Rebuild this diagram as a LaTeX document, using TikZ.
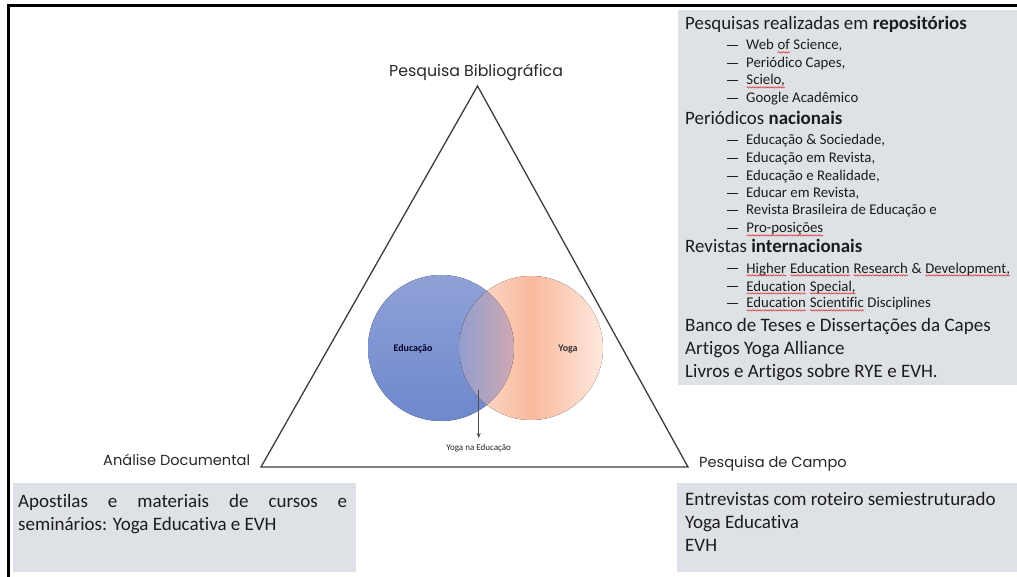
\documentclass[tikz,border=0pt]{standalone}
\usepackage{fontspec}
\setmainfont{Carlito}[Ligatures=NoCommon]
\newfontfamily\gothicfont{Poppins}
\usetikzlibrary{decorations.pathmorphing,arrows.meta}

\definecolor{boxgray}{RGB}{222,225,229}
\definecolor{textdark}{RGB}{28,28,28}
\definecolor{labeldark}{RGB}{40,40,40}
\definecolor{edublue1}{RGB}{143,161,214}
\definecolor{edublue2}{RGB}{110,136,205}
\definecolor{yogaor1}{RGB}{253,226,214}
\definecolor{yogaor2}{RGB}{249,186,157}
\definecolor{yogaor3}{RGB}{254,232,222}
\definecolor{lensleft}{RGB}{146,158,206}
\definecolor{lensright}{RGB}{208,168,178}
\definecolor{spellred}{RGB}{220,40,40}

% red wavy underline under a word
\newcommand\spellmark[1]{\tikz[baseline=(w.base)]{\node[inner sep=0pt,outer sep=0pt,anchor=base](w){#1};\draw[spellred,line width=0.5pt,decorate,decoration={snake,amplitude=0.7pt,segment length=2.6pt}] ([yshift=-2.4pt]w.base west)--([yshift=-2.4pt]w.base east);}}
% list dash
\newcommand\listdash{\raisebox{4.2pt}{\rule{10.5pt}{1.1pt}}}

\tikzset{
  cornerlabel/.style={font=\gothicfont\fontsize{14.6}{16}\selectfont, text=labeldark, inner sep=0pt, anchor=base west},
  heading/.style={font=\fontsize{18.9}{20}\selectfont, text=textdark, inner sep=0pt, anchor=base west},
  entry/.style={font=\fontsize{14.8}{16}\selectfont, text=textdark, inner sep=0pt, anchor=base west},
  bigline/.style={font=\fontsize{19}{21}\selectfont, text=textdark, inner sep=0pt, anchor=base west},
  greybox/.style={fill=boxgray, draw=none},
}

\begin{document}
\begin{tikzpicture}[x=1pt,y=-1pt]
\useasboundingbox (0,0) rectangle (1017,577);
\fill[white] (0,0) rectangle (1017,577);

% outer frame (top and left edges)
\draw[line width=2.4pt, black] (8.5,577) -- (8.5,5.5) -- (1017,5.5);

% grey source boxes
\fill[greybox] (678,10) rectangle (1017,385);
\fill[greybox] (13,483) rectangle (356,572);
\fill[greybox] (677,483) rectangle (1017,572);

% triangle of methods
\coordinate (apex) at (477.5,86);
\coordinate (left) at (261,467);
\coordinate (right) at (688,467);
\draw[line width=1.3pt, labeldark!90] (apex) -- (left) -- (right) -- cycle;

% Venn diagram
\fill[top color=edublue1, bottom color=edublue2] (441,348) circle (73);
\fill[left color=yogaor1, right color=yogaor3, middle color=yogaor2] (531,348) circle (72);
\begin{scope}
  \clip (441,348) circle (73);
  \clip (531,348) circle (72);
  \fill[left color=lensleft, right color=lensright] (459,270) rectangle (514,426);
\end{scope}
\node[font=\bfseries\fontsize{10}{12}\selectfont, text=black!75!blue!60!black, inner sep=0pt] (edu) at (413,349) {Educação};
\node[font=\bfseries\fontsize{10}{12}\selectfont, text=black!80, inner sep=0pt] (yoga) at (568,349) {Yoga};
\coordinate (arrtop) at (478.7,390);
\node[font=\fontsize{9}{11}\selectfont, text=black!85, inner sep=0pt, anchor=north] (yne) at (478.7,444) {Yoga na Educação};
\draw[line width=0.7pt, black!70, shorten >=6pt, -{Stealth[length=5pt,width=4pt]}] (arrtop) -- (yne.north);

% corner labels
\node[cornerlabel, font=\gothicfont\fontsize{15.8}{17}\selectfont] (pb) at (389,77) {Pesquisa Bibliográfica};
\node[cornerlabel] (ad) at (103,465) {Análise Documental};
\node[cornerlabel] (pc) at (699,467) {Pesquisa de Campo};

% repositories box
\node[heading] (h1) at (685,30) {Pesquisas realizadas em \textbf{repositórios}};
\foreach \y/\t [count=\i] in {50/{Web \spellmark{of} Science,}, 68/{Periódico Capes,}, 85/{\spellmark{Scielo,}}, 103/{Google Acadêmico}} {
  \node[entry] (da\i) at (727,\y) {\listdash};
  \node[entry] (ea\i) at (746,\y) {\t};
}
\node[heading] (h2) at (685,125) {Periódicos \textbf{nacionais}};
\foreach \y/\t [count=\i] in {145/{Educação \& Sociedade,}, 163/{Educação em Revista,}, 181/{Educação e Realidade,}, 198/{Educar em Revista,}, 215/{Revista Brasileira de Educação e}, 233/{\spellmark{Pro-posições}}} {
  \node[entry] (db\i) at (727,\y) {\listdash};
  \node[entry] (eb\i) at (746,\y) {\t};
}
\node[heading] (h3) at (685,253) {Revistas \textbf{internacionais}};
\foreach \y/\t [count=\i] in {273/{\spellmark{Higher} \spellmark{Education} \spellmark{Research} \& \spellmark{Development,}}, 291/{\spellmark{Education} \spellmark{Special,}}, 308/{\spellmark{Education} \spellmark{Scientific} Disciplines}} {
  \node[entry] (dc\i) at (727,\y) {\listdash};
  \node[entry] (ec\i) at (746,\y) {\t};
}
\node[bigline] (b1) at (685,331) {Banco de Teses e Dissertações da Capes};
\node[bigline] (b2) at (685,354) {Artigos Yoga Alliance};
\node[bigline] (b3) at (685,377) {Livros e Artigos sobre RYE e EVH.};

% document analysis box
\node[bigline] (a1) at (18,507) {\makebox[329pt][s]{Apostilas e materiais de cursos e}};
\node[bigline] (a2) at (18,530) {seminários: Yoga Educativa e EVH};

% field research box
\node[bigline] (c1) at (685,505) {Entrevistas com roteiro semiestruturado};
\node[bigline] (c2) at (685,528) {Yoga Educativa};
\node[bigline] (c3) at (685,551) {EVH};
\end{tikzpicture}
\end{document}
